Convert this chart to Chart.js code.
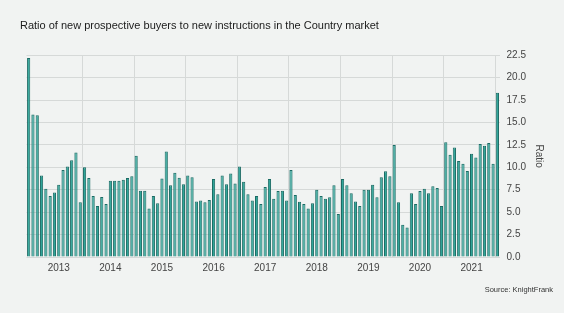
<!doctype html>
<html lang="en">
<head>
  <meta charset="utf-8">
  <title>Country market ratio</title>
  <script src="https://cdn.jsdelivr.net/npm/chart.js@4"></script>
  <style>
    html, body { margin: 0; padding: 0; background: #ffffff; }
    .grafico { width: 564px; height: 313px; background: #f1f3f2; }
  </style>
</head>
<body>

<div class="grafico">
  <canvas id="myChart"></canvas>
</div>

<script>
// monthly series, Jun 2012 .. Jul 2021
var firstYear = 2012;
var firstMonth = 5; // June (0-based)
var ratios = [
  22.2, 15.9, 15.8, 9.1, 7.6, 6.8, 7.2,
  8.05, 9.7, 10.1, 10.8, 11.65, 6.1, 10.0, 8.8, 6.8, 5.7, 6.7, 5.9,
  8.5, 8.5, 8.5, 8.6, 8.8, 9.0, 11.3, 7.4, 7.4, 5.4, 6.8, 6.0,
  8.75, 11.75, 8.0, 9.4, 8.85, 8.1, 9.1, 8.9, 6.2, 6.3, 6.1, 6.35,
  8.7, 7.0, 9.1, 8.1, 9.3, 8.2, 10.1, 8.4, 7.0, 6.3, 6.8, 5.9,
  7.8, 8.7, 6.5, 7.35, 7.4, 6.3, 9.7, 6.9, 6.15, 5.9, 5.4, 6.0,
  7.5, 6.8, 6.5, 6.65, 8.0, 4.8, 8.7, 8.0, 7.1, 6.2, 5.7, 7.5,
  7.5, 8.05, 6.65, 8.9, 9.55, 9.0, 12.5, 6.1, 3.6, 3.3, 7.1, 5.9,
  7.35, 7.6, 7.1, 7.9, 7.7, 5.7, 12.8, 11.4, 12.2, 10.7, 10.4, 9.6,
  11.5, 11.1, 12.6, 12.4, 12.7, 10.4, 18.3
];
var yTicks = [0, 2.5, 5, 7.5, 10, 12.5, 15, 17.5, 20, 22.5];

var months = [];
for (var i = 0; i < ratios.length; i++) {
  var m = firstMonth + i;
  months.push({ year: firstYear + Math.floor(m / 12), month: m % 12 });
}
var labels = months.map(function (d) { return d.year + '-' + (d.month + 1); });

var ctx = document.getElementById('myChart').getContext('2d');
Chart.defaults.font.family = '"Liberation Sans", Arial, sans-serif';

var myChart = new Chart(ctx, {
  type: 'bar',
  data: {
    labels: labels,
    datasets: [{
      label: 'Ratio',
      data: ratios,
      xAxisID: 'x',
      yAxisID: 'y',
      backgroundColor: '#30a599',
      borderColor: '#1b6b64',
      borderWidth: 1,
      barPercentage: 0.74,
      categoryPercentage: 1.0
    }]
  },
  options: {
    responsive: true,
    maintainAspectRatio: false,
    animation: false,
    layout: { padding: { left: 20, right: 11, top: 6, bottom: 4 } },
    scales: {
      x: {
        grid: {
          offset: true,
          drawTicks: false,
          // a line at every July, between June and July bars
          color: function (c) {
            var d = months[c.index];
            return d && d.month === 6 && c.index > 6 ? '#d6d9d8' : 'rgba(0,0,0,0)';
          }
        },
        border: { display: false },
        ticks: {
          autoSkip: false,
          maxRotation: 0,
          padding: 5,
          color: '#444',
          font: { size: 10 },
          callback: function (v, idx) {
            return months[idx].month === 0 ? String(months[idx].year) : '';
          }
        }
      },
      // empty left gutter so the bars start a little right of the title
      gutter: {
        type: 'linear',
        position: 'left',
        display: true,
        grid: { display: false },
        border: { display: false },
        ticks: { display: false },
        afterFit: function (axis) { axis.width = 6.5; }
      },
      y: {
        position: 'right',
        min: 0,
        max: 22.5,
        afterBuildTicks: function (axis) {
          axis.ticks = yTicks.map(function (v) { return { value: v }; });
        },
        grid: { color: '#d6d9d8', drawTicks: false },
        border: { display: false },
        ticks: {
          padding: 7,
          color: '#444',
          font: { size: 10 },
          callback: function (v) { return Number(v).toFixed(1); }
        },
        title: {
          display: true,
          text: 'Ratio',
          color: '#444',
          font: { size: 10 },
          padding: { top: 8, bottom: 0 }
        }
      }
    },
    plugins: {
      legend: { display: false },
      tooltip: { enabled: false },
      title: {
        display: true,
        text: 'Ratio of new prospective buyers to new instructions in the Country market',
        align: 'start',
        color: '#1b1b1b',
        font: { size: 11, weight: 'normal' },
        padding: { top: 13, bottom: 23 }
      },
      subtitle: {
        display: true,
        position: 'bottom',
        align: 'end',
        text: 'Source: KnightFrank',
        color: '#333',
        font: { size: 7.5 },
        padding: { top: 6, bottom: 15 }
      }
    }
  }
});
</script>

</body>
</html>
